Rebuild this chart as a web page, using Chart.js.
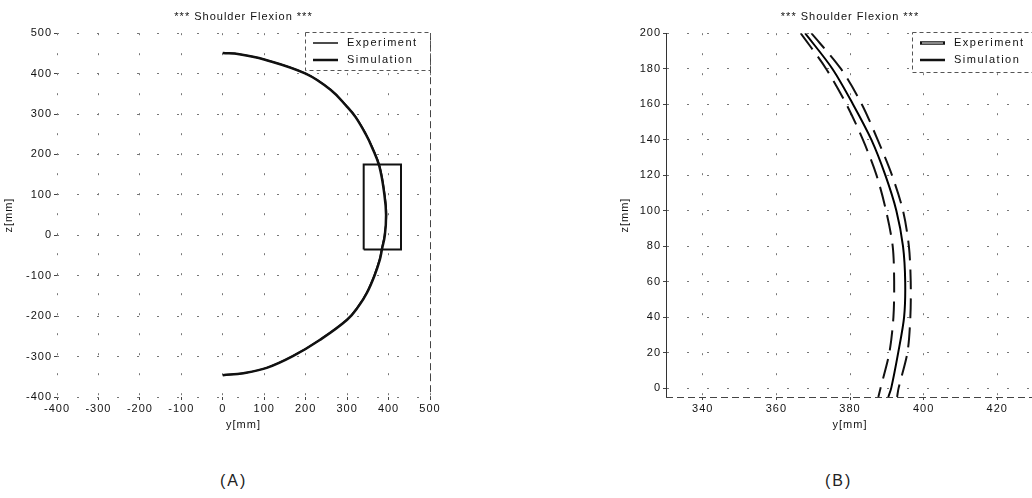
<!DOCTYPE html>
<html>
<head>
<meta charset="utf-8">
<script src="https://cdn.jsdelivr.net/npm/chart.js@4"></script>
<style>
  html, body { margin: 0; padding: 0; background: #fff; width: 1032px; height: 498px; overflow: hidden; }
  body { position: relative; font-family: "Liberation Sans", Arial, sans-serif; }
  #leftChart { position: absolute; left: 0; top: 0; }
  #rightChart { position: absolute; left: 560px; top: 0; }
  .panel { position: absolute; top: 472px; font-size: 16px; line-height: 18px; letter-spacing: 2px; color: #222; }
</style>
</head>
<body>
<canvas id="leftChart" width="500" height="440"></canvas>
<canvas id="rightChart" width="480" height="440"></canvas>
<div class="panel" style="left:220px">(A)</div>
<div class="panel" style="left:825px">(B)</div>
<script>
// ---- data ----
// (A) whole trajectory, z [mm] vs y [mm]
var leftZ    = [451, 448, 435, 400, 360, 320, 293, 250, 218, 170, 100, 50, 0, -35, -60, -100, -142, -175, -209, -259, -299, -328, -341, -346];
var leftExpY = [0, 40, 100, 200, 260, 298, 320, 345, 360, 378, 390, 394, 391, 384, 379, 366, 348, 328, 300, 234, 169, 106, 50, 0];
var leftSimY = [0, 41, 101, 201, 261, 299, 321, 346, 361, 379, 391, 395, 390, 383, 378, 365, 347, 327, 299, 233, 168, 105, 49, 0];
// zoom rectangle drawn on (A)
var boxY = [340, 430, 430, 340, 340];
var boxZ = [-35, -35, 175, 175, -35];
var leftTicks = [-400, -300, -200, -100, 0, 100, 200, 300, 400, 500];

// (B) close-up
var rightZ     = [200, 180, 160, 140, 120, 100, 80, 60, 40, 20, 0, -5];
var rightSimY  = [367.8, 375.2, 380.8, 385.8, 389.6, 392.6, 394.4, 395.0, 394.7, 393.1, 391.2, 390.4];
var rightLowY  = [366.6, 373.5, 379.0, 383.5, 387.2, 389.8, 391.6, 392.0, 391.8, 390.7, 388.3, 387.7];
var rightHighY = [369.5, 377.5, 383.2, 387.5, 391.4, 394.4, 396.0, 396.5, 396.4, 395.6, 393.2, 392.8];
var rightXTicks = [340, 360, 380, 400, 420];
var rightZTicks = [0, 20, 40, 60, 80, 100, 120, 140, 160, 180, 200];

var FONT = '"Liberation Sans", Arial, sans-serif';

function pts(xs, ys) {
    return xs.map(function (x, i) { return { x: x, y: ys[i] }; });
}

// scanned text in the figure is widely spaced
var spacing = {
    id: 'spacing',
    beforeUpdate: function (chart) { chart.ctx.letterSpacing = '1px'; },
    beforeDraw: function (chart) { chart.ctx.letterSpacing = '1px'; }
};

// legend drawn inside the plot, top right, dashed box
var insideLegend = {
    id: 'insideLegend',
    afterDraw: function (chart, args, opts) {
        var ctx = chart.ctx, area = chart.chartArea;
        var items = chart.data.datasets.filter(function (d) { return d.inLegend; });
        var x0 = Math.round(area.right - opts.width), y0 = Math.round(area.top - 1);
        ctx.save();
        ctx.fillStyle = '#fff';
        ctx.fillRect(x0, y0, opts.width, opts.height);
        ctx.setLineDash([4, 3]);
        ctx.strokeStyle = '#555';
        ctx.lineWidth = 1;
        ctx.strokeRect(x0 + 0.5, y0 + 0.5, opts.width, opts.height);
        ctx.setLineDash([]);
        ctx.font = '11px ' + FONT;
        ctx.letterSpacing = '1.5px';
        ctx.textBaseline = 'middle';
        ctx.fillStyle = '#111';
        items.forEach(function (d, i) {
            var y = y0 + 11 + i * 17;
            var s = opts.samples[i];
            ctx.strokeStyle = '#111';
            ctx.lineWidth = s.width;
            ctx.beginPath();
            ctx.moveTo(x0 + 8, y);
            ctx.lineTo(x0 + 33, y);
            ctx.stroke();
            if (s.hollow) {
                ctx.strokeStyle = '#fff';
                ctx.lineWidth = 1;
                ctx.beginPath();
                ctx.moveTo(x0 + 10, y);
                ctx.lineTo(x0 + 31, y);
                ctx.stroke();
            }
            ctx.fillText(d.label, x0 + 42, y);
        });
        ctx.restore();
    }
};

// extra dashed edges of the plot frame
var frameEdges = {
    id: 'frameEdges',
    afterDatasetsDraw: function (chart, args, opts) {
        var ctx = chart.ctx, a = chart.chartArea;
        ctx.save();
        ctx.strokeStyle = '#444';
        ctx.lineWidth = 1;
        ctx.setLineDash([7, 4]);
        (opts.edges || []).forEach(function (e) {
            ctx.beginPath();
            if (e === 'right') { ctx.moveTo(a.right + 0.5, a.top); ctx.lineTo(a.right + 0.5, a.bottom); }
            if (e === 'bottom') { ctx.moveTo(a.left, a.bottom + 0.5); ctx.lineTo(a.right, a.bottom + 0.5); }
            ctx.stroke();
        });
        ctx.restore();
    }
};

function axisX(min, max, tickList) {
    return {
        type: 'linear', min: min, max: max,
        afterBuildTicks: function (s) { s.ticks = tickList.map(function (v) { return { value: v }; }); },
        afterFit: function (s) { s.height = 43; },
        ticks: { color: '#111', font: { size: 11, family: FONT }, padding: 2, maxRotation: 0, autoSkip: false },
        grid: { color: '#777', lineWidth: 1, tickLength: 3, tickColor: '#444' },
        border: { display: false, dash: [2, 18] },
        title: { display: true, text: 'y[mm]', color: '#111', font: { size: 11, family: FONT }, padding: { top: 0, bottom: 8 } }
    };
}

function axisY(min, max, tickList, width, showBorder) {
    return {
        type: 'linear', min: min, max: max,
        afterBuildTicks: function (s) { s.ticks = tickList.map(function (v) { return { value: v }; }); },
        afterFit: function (s) { s.width = width; },
        ticks: { color: '#111', font: { size: 11, family: FONT }, padding: 2, autoSkip: false },
        grid: { color: '#777', lineWidth: 1, tickLength: 3, tickColor: '#444' },
        border: { display: showBorder, color: '#333', width: 1, dash: [2, 18] },
        title: { display: true, text: 'z[mm]', color: '#111', font: { size: 11, family: FONT }, padding: { top: 2, bottom: 0 } }
    };
}

function baseOptions(padding) {
    return {
        responsive: false,
        animation: false,
        layout: { padding: padding },
        elements: { point: { radius: 0 } },
        plugins: {
            legend: { display: false },
            tooltip: { enabled: false },
            title: {
                display: true, text: '*** Shoulder Flexion ***', fullSize: false,
                color: '#111', font: { size: 11, family: FONT, weight: 'normal' },
                padding: { top: 10, bottom: 10 }
            }
        }
    };
}

function drawLeftChart() {
    var ctx = document.getElementById('leftChart').getContext('2d');
    var opts = baseOptions({ left: 0, right: 70, top: 0, bottom: 0 });
    opts.scales = {
        x: axisX(-400, 500, leftTicks),
        y: axisY(-400, 500, leftTicks, 57, false)
    };
    opts.plugins.insideLegend = { width: 125, height: 38, samples: [{ width: 1.5 }, { width: 2.5 }] };
    opts.plugins.frameEdges = { edges: ['right'] };
    new Chart(ctx, {
        type: 'scatter',
        data: {
            datasets: [
                { label: 'Experiment', inLegend: true, data: pts(leftExpY, leftZ), showLine: true, borderColor: '#111', borderWidth: 2.5, tension: 0.4 },
                { label: 'Simulation', inLegend: true, data: pts(leftSimY, leftZ), showLine: true, borderColor: '#000', borderWidth: 1.5, tension: 0.4 },
                { label: 'zoom', data: pts(boxY, boxZ), showLine: true, borderColor: '#111', borderWidth: 2, tension: 0 }
            ]
        },
        options: opts,
        plugins: [spacing, insideLegend, frameEdges]
    });
}

function drawRightChart() {
    var ctx = document.getElementById('rightChart').getContext('2d');
    var opts = baseOptions({ left: 56, right: 6, top: 0, bottom: 0 });
    opts.scales = {
        x: axisX(330, 430, rightXTicks),
        y: axisY(-5, 200, rightZTicks, 50, true)
    };
    opts.plugins.insideLegend = { width: 122, height: 40, samples: [{ width: 3.5, hollow: true }, { width: 2.5 }] };
    opts.plugins.frameEdges = { edges: ['bottom'] };
    new Chart(ctx, {
        type: 'scatter',
        data: {
            datasets: [
                { label: 'Experiment', inLegend: true, data: pts(rightHighY, rightZ), showLine: true, borderColor: '#111', borderWidth: 2, borderDash: [20, 9], tension: 0.3 },
                { label: 'Experiment', data: pts(rightLowY, rightZ), showLine: true, borderColor: '#111', borderWidth: 2, borderDash: [20, 9], tension: 0.3 },
                { label: 'Simulation', inLegend: true, data: pts(rightSimY, rightZ), showLine: true, borderColor: '#000', borderWidth: 2, tension: 0.3 }
            ]
        },
        options: opts,
        plugins: [spacing, insideLegend, frameEdges]
    });
}

drawLeftChart();
drawRightChart();
</script>
</body>
</html>
